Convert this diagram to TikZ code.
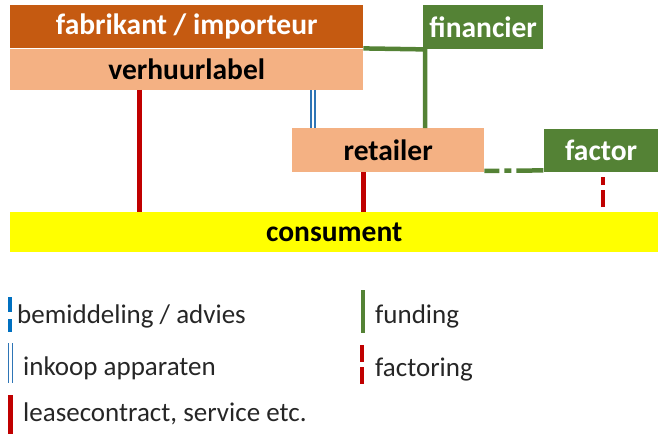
\documentclass[tikz,border=0pt]{standalone}
\usepackage{fontspec}
\setmainfont{Carlito}
\usepackage{xcolor}
\usepackage{tikz}
\usetikzlibrary{positioning, calc}
\definecolor{rust}{HTML}{C55A11}
\definecolor{peach}{HTML}{F4B183}
\definecolor{moss}{HTML}{548235}
\definecolor{lemon}{HTML}{FFFF00}
\definecolor{crimson}{HTML}{C00000}
\definecolor{sea}{HTML}{0070C0}
\definecolor{sky}{HTML}{2E75B6}
\tikzset{
    box/.style={inner sep=0pt, font=\fontsize{29.5}{32}\selectfont\bfseries},
    darkbox/.style={box, fill=rust, text=white},
    lightbox/.style={box, fill=peach, text=black},
    greenbox/.style={box, fill=moss, text=white},
    lease/.style={draw=crimson, line width=5pt},
    funding/.style={draw=moss, line width=4.5pt},
    purchase/.style={draw=sky, double=white, double distance=2.5pt, line width=1.3pt},
    advice/.style={draw=sea, line width=3.5pt, dash pattern=on 15pt off 7pt},
    factoring/.style={draw=crimson, line width=4pt, dash pattern=on 17pt off 5pt},
    legend/.style={font=\fontsize{27}{30}\selectfont, text=black!85, anchor=base west, inner sep=0pt}
}
\begin{document}
\begin{tikzpicture}[x=1pt, y=-1pt]
    \useasboundingbox (0,0) rectangle (658,434);
    % Parties
    \node[darkbox, minimum width=353pt, minimum height=43pt, anchor=north west] (fabrikant) at (10,5) {fabrikant / importeur};
    \node[lightbox, minimum width=353pt, minimum height=41pt, below=0pt of fabrikant] (verhuur) {verhuurlabel};
    \node[greenbox, minimum width=120pt, minimum height=44pt, anchor=north west] (financier) at (423,5) {financier};
    \node[lightbox, minimum width=192pt, minimum height=44pt, anchor=north west] (retailer) at (292,128) {retailer};
    \node[greenbox, minimum width=115pt, minimum height=43pt, right=59pt of retailer] (factor) {factor};
    \node[box, fill=lemon, minimum width=648pt, minimum height=40pt, anchor=north west] (consument) at (10,212) {consument};
    % Lease contracts
    \coordinate (vl) at ([xshift=129pt]verhuur.south west);
    \draw[lease] (vl) -- (vl |- consument.north);
    \coordinate (rl) at ([xshift=71pt]retailer.south west);
    \draw[lease] (rl) -- (rl |- consument.north);
    % Purchase of devices
    \coordinate (ri) at ([xshift=21pt]retailer.north west);
    \draw[purchase] (ri |- verhuur.south) -- (ri);
    % Funding
    \coordinate (fj) at ([xshift=2pt]financier.south west);
    \draw[funding] (fabrikant.south east) -- (fj) -- (fj |- retailer.north);
    \draw[funding, dash pattern=on 15pt off 5pt on 7pt off 5pt on 40pt] ([yshift=1.5pt]retailer.south east) -- ([yshift=1.5pt]factor.south west);
    % Factoring
    \coordinate (fc) at ([xshift=2pt, yshift=-5pt]factor.south);
    \draw[factoring] ([yshift=5pt]fc |- consument.north) -- (fc);
    % Legend
    \node[legend] (advies) at (17,323) {bemiddeling / advies};
    \node[legend] (inkoop) at (23,375) {inkoop apparaten};
    \node[legend] (leasing) at (23,421) {leasecontract, service etc.};
    \node[legend] (fundleg) at (375,323) {funding};
    \node[legend] (factleg) at (375,376) {factoring};
    \draw[advice] (10,297) -- (10,332);
    \draw[purchase] (10.5,343) -- (10.5,383);
    \draw[lease] (10.5,395) -- (10.5,434);
    \draw[funding] (363,290) -- (363,333);
    \draw[factoring] (362,345) -- (362,385);
\end{tikzpicture}
\end{document}
